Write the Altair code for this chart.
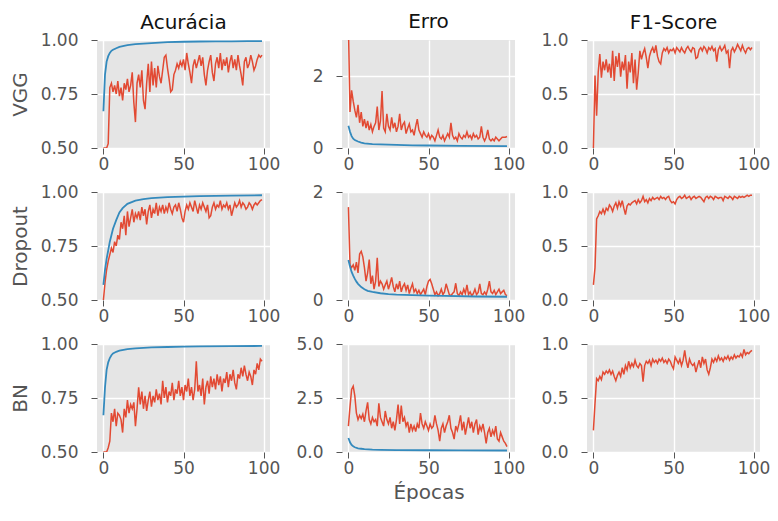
import altair as alt
import pandas as pd

epochs = list(range(100))

# ---- VGG ----
vgg_acc_val = [0.50, 0.50, 0.50, 0.52, 0.78, 0.80, 0.76, 0.79, 0.75, 0.81,
               0.74, 0.78, 0.72, 0.80, 0.77, 0.82, 0.76, 0.79, 0.85, 0.71,
               0.62, 0.80, 0.84, 0.78, 0.86, 0.72, 0.68, 0.80, 0.89, 0.76,
               0.90, 0.79, 0.87, 0.78, 0.88, 0.83, 0.80, 0.86, 0.92, 0.93,
               0.87, 0.82, 0.76, 0.77, 0.84, 0.86, 0.89, 0.87, 0.90, 0.88,
               0.91, 0.86, 0.94, 0.89, 0.85, 0.80, 0.88, 0.91, 0.87, 0.90,
               0.93, 0.88, 0.92, 0.84, 0.79, 0.86, 0.90, 0.93, 0.85, 0.81,
               0.89, 0.92, 0.87, 0.94, 0.86, 0.91, 0.88, 0.92, 0.85, 0.90,
               0.93, 0.87, 0.91, 0.86, 0.93, 0.88, 0.84, 0.79, 0.90, 0.92,
               0.87, 0.89, 0.93, 0.90, 0.86, 0.88, 0.91, 0.93, 0.92, 0.93]
vgg_acc_tr_ep = [0, 1, 2, 3, 4, 5, 6, 8, 10, 15, 20, 30, 40, 50, 60, 70, 80, 90, 99]
vgg_acc_tr = [0.67, 0.84, 0.90, 0.925, 0.94, 0.95, 0.955, 0.962, 0.968, 0.976,
              0.981, 0.986, 0.99, 0.992, 0.993, 0.994, 0.994, 0.995, 0.995]

vgg_loss_val = [3.4, 1.0, 1.6, 1.3, 1.05, 0.85, 1.2, 0.7, 1.0, 0.6,
                0.8, 0.55, 0.75, 0.5, 0.65, 0.45, 0.6, 0.7, 1.15, 0.5,
                0.75, 1.58, 0.55, 0.45, 0.95, 0.6, 0.5, 0.85, 0.55, 0.7,
                0.45, 0.6, 0.95, 0.5, 0.65, 0.72, 0.4, 0.55, 0.67, 0.45,
                0.5, 0.35, 0.6, 0.8, 0.5, 0.4, 0.3, 0.45, 0.35, 0.3,
                0.4, 0.25, 0.35, 0.3, 0.2, 0.35, 0.5, 0.3, 0.25, 0.35,
                0.2, 0.3, 0.4, 0.3, 0.7, 0.35, 0.25, 0.3, 0.2, 0.4,
                0.3, 0.25, 0.35, 0.3, 0.45, 0.3, 0.35, 0.25, 0.4, 0.3,
                0.35, 0.25, 0.3, 0.6, 0.3, 0.2, 0.3, 0.5, 0.25, 0.2,
                0.25, 0.2, 0.3, 0.25, 0.2, 0.25, 0.3, 0.3, 0.3, 0.32]
vgg_loss_tr_ep = [0, 1, 2, 3, 4, 6, 8, 10, 15, 20, 30, 40, 50, 70, 99]
vgg_loss_tr = [0.62, 0.45, 0.33, 0.26, 0.22, 0.18, 0.15, 0.13, 0.11, 0.10,
               0.085, 0.075, 0.07, 0.06, 0.05]

vgg_f1 = [0.00, 0.67, 0.30, 0.70, 0.87, 0.65, 0.80, 0.72, 0.82, 0.70,
          0.78, 0.65, 0.90, 0.62, 0.85, 0.75, 0.88, 0.66, 0.80, 0.72,
          0.86, 0.55, 0.80, 0.70, 0.88, 0.60, 0.82, 0.54, 0.70, 0.90,
          0.82, 0.88, 0.92, 0.84, 0.74, 0.85, 0.90, 0.93, 0.88, 0.95,
          0.85, 0.80, 0.78, 0.88, 0.92, 0.90, 0.93, 0.88, 0.91, 0.90,
          0.92, 0.88, 0.93, 0.91, 0.89, 0.93, 0.90, 0.88, 0.92, 0.94,
          0.91, 0.89, 0.93, 0.92, 0.83, 0.84, 0.91, 0.93, 0.90, 0.94,
          0.92, 0.88, 0.93, 0.91, 0.94, 0.90, 0.92, 0.80, 0.91, 0.94,
          0.90, 0.92, 0.95, 0.88, 0.90, 0.74, 0.90, 0.93, 0.89, 0.92,
          0.96, 0.93, 0.90, 0.95, 0.91, 0.88, 0.92, 0.93, 0.91, 0.93]

# ---- Dropout ----
drop_acc_val = [0.50, 0.58, 0.64, 0.68, 0.71, 0.74, 0.72, 0.77, 0.75, 0.80,
                0.78, 0.86, 0.83, 0.89, 0.80, 0.91, 0.84, 0.88, 0.92, 0.86,
                0.90, 0.88, 0.91, 0.87, 0.93, 0.89, 0.92, 0.85, 0.91, 0.94,
                0.88, 0.92, 0.90, 0.95, 0.89, 0.93, 0.91, 0.94, 0.90, 0.93,
                0.91, 0.95, 0.92, 0.90, 0.93, 0.94, 0.91, 0.95, 0.92, 0.88,
                0.86, 0.91, 0.94, 0.92, 0.95, 0.93, 0.91, 0.96, 0.93, 0.90,
                0.94, 0.92, 0.95, 0.93, 0.91, 0.94, 0.88, 0.89, 0.93, 0.95,
                0.92, 0.94, 0.93, 0.96, 0.92, 0.94, 0.93, 0.95, 0.92, 0.94,
                0.89, 0.92, 0.95, 0.93, 0.94, 0.96, 0.93, 0.95, 0.94, 0.92,
                0.93, 0.95, 0.94, 0.92, 0.94, 0.95, 0.94, 0.95, 0.96, 0.965]
drop_acc_tr_ep = [0, 1, 2, 3, 4, 5, 6, 8, 10, 12, 15, 20, 25, 30, 40, 50, 60, 80, 99]
drop_acc_tr = [0.57, 0.64, 0.69, 0.73, 0.77, 0.80, 0.83, 0.87, 0.905, 0.925,
               0.945, 0.96, 0.967, 0.972, 0.976, 0.979, 0.981, 0.983, 0.985]

drop_loss_val = [1.72, 0.65, 0.60, 0.65, 0.55, 0.70, 0.50, 0.85, 0.90, 0.80,
                 0.60, 0.35, 0.50, 0.75, 0.30, 0.45, 0.20, 0.35, 0.78, 0.25,
                 0.35, 0.30, 0.20, 0.28, 0.35, 0.20, 0.30, 0.42, 0.25, 0.15,
                 0.30, 0.20, 0.35, 0.15, 0.25, 0.30, 0.18, 0.28, 0.12, 0.22,
                 0.30, 0.15, 0.20, 0.12, 0.18, 0.10, 0.15, 0.20, 0.10, 0.25,
                 0.35, 0.38, 0.30, 0.20, 0.10, 0.15, 0.08, 0.12, 0.20, 0.10,
                 0.15, 0.30, 0.20, 0.10, 0.08, 0.12, 0.15, 0.31, 0.12, 0.08,
                 0.15, 0.10, 0.20, 0.12, 0.28, 0.10, 0.15, 0.08, 0.12, 0.20,
                 0.10, 0.14, 0.30, 0.12, 0.10, 0.15, 0.10, 0.20, 0.35, 0.15,
                 0.12, 0.18, 0.10, 0.15, 0.20, 0.12, 0.15, 0.18, 0.10, 0.08]
drop_loss_tr_ep = [0, 1, 2, 3, 4, 5, 6, 8, 10, 12, 15, 20, 25, 30, 40, 50, 60, 80, 99]
drop_loss_tr = [0.74, 0.62, 0.52, 0.45, 0.39, 0.34, 0.30, 0.24, 0.20, 0.17,
                0.15, 0.125, 0.11, 0.10, 0.09, 0.08, 0.075, 0.065, 0.06]

drop_f1 = [0.14, 0.30, 0.75, 0.78, 0.82, 0.80, 0.84, 0.80, 0.85, 0.83,
           0.88, 0.86, 0.82, 0.87, 0.90, 0.85, 0.91, 0.87, 0.92, 0.85,
           0.79, 0.87, 0.89, 0.88, 0.90, 0.91, 0.92, 0.89, 0.93, 0.90,
           0.92, 0.96, 0.91, 0.93, 0.90, 0.94, 0.92, 0.95, 0.93, 0.94,
           0.95, 0.93, 0.96, 0.94, 0.95, 0.93, 0.95, 0.96, 0.92, 0.90,
           0.91, 0.89, 0.93, 0.95, 0.96, 0.94, 0.95, 0.97, 0.94, 0.95,
           0.96, 0.93, 0.95, 0.96, 0.94, 0.95, 0.96, 0.95, 0.93, 0.91,
           0.95, 0.96, 0.94, 0.96, 0.95, 0.93, 0.96, 0.95, 0.94, 0.95,
           0.95, 0.92, 0.96, 0.95, 0.94, 0.96, 0.95, 0.93, 0.96, 0.95,
           0.94, 0.96, 0.95, 0.96, 0.95, 0.96, 0.97, 0.96, 0.97, 0.97]

# ---- BN ----
bn_acc_val = [0.50, 0.50, 0.50, 0.52, 0.55, 0.68, 0.64, 0.70, 0.62, 0.68,
              0.67, 0.65, 0.59, 0.70, 0.66, 0.74, 0.68, 0.72, 0.70, 0.73,
              0.62, 0.70, 0.80, 0.72, 0.78, 0.70, 0.76, 0.69, 0.74, 0.78,
              0.71, 0.76, 0.73, 0.79, 0.74, 0.77, 0.72, 0.83, 0.75, 0.80,
              0.73, 0.78, 0.76, 0.82, 0.74, 0.79, 0.77, 0.83, 0.76, 0.80,
              0.74, 0.81, 0.78, 0.84, 0.76, 0.80, 0.74, 0.79, 0.92, 0.78,
              0.81, 0.76, 0.84, 0.72, 0.80, 0.83, 0.77, 0.85, 0.80, 0.84,
              0.79, 0.86, 0.81, 0.85, 0.78, 0.84, 0.82, 0.87, 0.80, 0.86,
              0.83, 0.88, 0.82, 0.79, 0.86, 0.84, 0.89, 0.85, 0.90, 0.86,
              0.83, 0.87, 0.85, 0.81, 0.88, 0.86, 0.91, 0.88, 0.93, 0.92]
bn_acc_tr_ep = [0, 1, 2, 3, 4, 5, 6, 8, 10, 15, 20, 30, 40, 50, 60, 80, 99]
bn_acc_tr = [0.67, 0.80, 0.88, 0.915, 0.935, 0.948, 0.956, 0.964, 0.969, 0.976,
             0.980, 0.984, 0.986, 0.988, 0.989, 0.99, 0.991]

bn_loss_val = [1.2, 2.1, 2.9, 3.05, 2.6, 1.8, 1.5, 1.7, 1.55, 1.75,
               1.4, 1.9, 2.3, 1.5, 1.3, 1.6, 1.4, 1.5, 1.2, 2.25,
               1.6, 1.4, 1.2, 1.9, 1.5, 1.3, 1.6, 1.1, 1.4, 1.0,
               1.5, 2.2, 1.3, 2.15, 1.4, 1.6, 1.2, 1.4, 0.9, 1.3,
               1.0, 1.2, 0.95, 1.3, 1.1, 1.8, 1.3, 1.1, 1.4, 1.2,
               1.0, 1.3, 1.1, 1.2, 1.7, 1.3, 1.0, 0.5, 1.1, 1.3,
               0.9, 1.2, 1.4, 1.7, 1.1, 0.9, 0.6, 1.2, 1.0, 1.3,
               1.7, 1.0, 1.4, 0.8, 1.2, 1.6, 1.1, 1.4, 0.9, 1.3,
               1.5, 0.8, 1.2, 1.0, 1.3, 0.9, 0.4, 0.9, 1.1, 0.7,
               1.0, 0.8, 1.2, 0.6, 0.5, 0.9, 0.7, 0.5, 0.4, 0.25]
bn_loss_tr_ep = [0, 1, 2, 3, 4, 6, 8, 10, 15, 20, 30, 50, 70, 99]
bn_loss_tr = [0.65, 0.45, 0.33, 0.26, 0.22, 0.17, 0.15, 0.13, 0.11, 0.10,
              0.09, 0.08, 0.075, 0.07]

bn_f1 = [0.20, 0.45, 0.68, 0.66, 0.70, 0.67, 0.74, 0.72, 0.75, 0.73,
         0.76, 0.72, 0.75, 0.70, 0.66, 0.71, 0.74, 0.70, 0.78, 0.72,
         0.80, 0.76, 0.84, 0.78, 0.82, 0.79, 0.85, 0.80, 0.78, 0.82,
         0.80, 0.65, 0.80, 0.84, 0.82, 0.85, 0.80, 0.86, 0.83, 0.85,
         0.82, 0.86, 0.84, 0.87, 0.83, 0.85, 0.82, 0.86, 0.84, 0.80,
         0.77, 0.88, 0.85, 0.82, 0.86, 0.80, 0.85, 0.94, 0.84, 0.78,
         0.86, 0.82, 0.80, 0.82, 0.74, 0.80, 0.85, 0.78, 0.88, 0.82,
         0.86, 0.76, 0.72, 0.78, 0.86, 0.83, 0.87, 0.84, 0.89, 0.85,
         0.87, 0.84, 0.88, 0.86, 0.89, 0.85, 0.88, 0.86, 0.90, 0.87,
         0.89, 0.88, 0.91, 0.88, 0.95, 0.90, 0.92, 0.91, 0.93, 0.94]

col_titles = ["Acurácia", "Erro", "F1-Score"]
row_titles = ["VGG", "Dropout", "BN"]
x_ticks = [0, 50, 100]

RED = "#E24A33"
BLUE = "#348ABD"
FONT = "DejaVu Sans"
W, H = 173, 108


def panel(red_vals, blue_ep, blue_vals, ydom, yticks, yfmt,
          title=None, title_offset=-2, ytitle=None, xtitle=None):
    xenc = alt.X("epoch:Q",
                 scale=alt.Scale(domain=[-4, 104], nice=False, zero=False),
                 axis=alt.Axis(values=x_ticks, format="d", title=xtitle))
    yenc = alt.Y("v:Q",
                 scale=alt.Scale(domain=ydom, nice=False, zero=False),
                 axis=alt.Axis(values=yticks, format=yfmt, title=ytitle))
    dr = pd.DataFrame({"epoch": epochs, "v": red_vals})
    layers = [alt.Chart(dr).mark_line(color=RED, strokeWidth=1.5, clip=True)
              .encode(x=xenc, y=yenc)]
    if blue_vals is not None:
        db = pd.DataFrame({"epoch": blue_ep, "v": blue_vals})
        layers.append(alt.Chart(db).mark_line(color=BLUE, strokeWidth=1.8, clip=True)
                      .encode(x=xenc, y=yenc))
    ch = alt.layer(*layers).properties(width=W, height=H)
    if title is not None:
        ch = ch.properties(title=alt.TitleParams(title, frame="group",
                                                 offset=title_offset))
    return ch


acc_ticks, acc_fmt = [0.5, 0.75, 1.0], ".2f"
f1_ticks, f1_fmt = [0.0, 0.5, 1.0], ".1f"

panels = [
    panel(vgg_acc_val, vgg_acc_tr_ep, vgg_acc_tr, [0.5, 1.0], acc_ticks, acc_fmt,
          title=col_titles[0], title_offset=-2, ytitle=row_titles[0]),
    panel(vgg_loss_val, vgg_loss_tr_ep, vgg_loss_tr, [0, 3], [0, 2], "d",
          title=col_titles[1], title_offset=8),
    panel(vgg_f1, None, None, [0, 1], f1_ticks, f1_fmt,
          title=col_titles[2], title_offset=-2),
    panel(drop_acc_val, drop_acc_tr_ep, drop_acc_tr, [0.5, 1.0], acc_ticks, acc_fmt,
          ytitle=row_titles[1]),
    panel(drop_loss_val, drop_loss_tr_ep, drop_loss_tr, [0, 2], [0, 1, 2], "d"),
    panel(drop_f1, None, None, [0, 1], f1_ticks, f1_fmt),
    panel(bn_acc_val, bn_acc_tr_ep, bn_acc_tr, [0.5, 1.0], acc_ticks, acc_fmt,
          ytitle=row_titles[2]),
    panel(bn_loss_val, bn_loss_tr_ep, bn_loss_tr, [0, 5], [0, 2.5, 5], ".1f",
          xtitle="Épocas"),
    panel(bn_f1, None, None, [0, 1], f1_ticks, f1_fmt),
]

chart = alt.concat(*panels, columns=3,
                   spacing=alt.RowColnumber(row=44, column=72),
                   bounds="flush").properties(
    padding={"left": 2, "top": 4, "right": 0, "bottom": 0},
    background="white",
).configure_view(
    fill="#E5E5E5", strokeWidth=0, stroke=None
).configure_axis(
    labelFont=FONT, labelFontSize=17, labelColor="#555555",
    titleFont=FONT, titleFontSize=20, titleColor="#555555", titleFontWeight="normal",
    tickColor="#555555", tickSize=6, tickWidth=1,
    gridColor="white", gridWidth=1.4, domain=False, labelFlush=False,
).configure_axisX(
    labelPadding=2, titlePadding=6,
).configure_axisY(
    labelPadding=13, titlePadding=10,
).configure_title(
    font=FONT, fontSize=20, fontWeight="normal", color="#111111",
)

chart.save("out.html", embed_options={"renderer": "svg", "actions": False})
